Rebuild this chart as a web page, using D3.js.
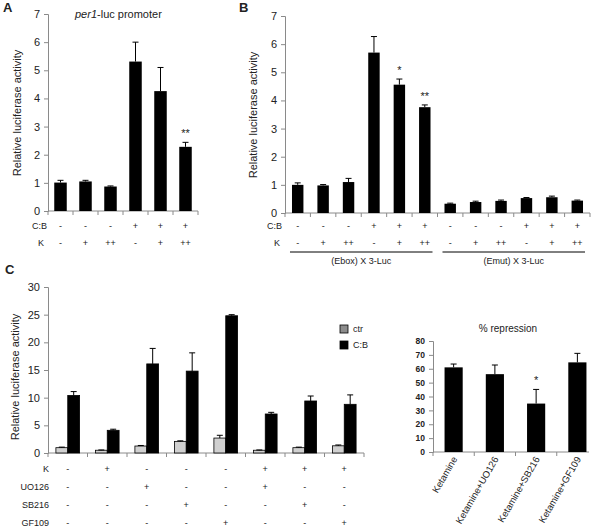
<!DOCTYPE html>
<html><head><meta charset="utf-8">
<script src="https://cdn.jsdelivr.net/npm/d3@7"></script>
<style>
body{margin:0;background:#fff;}
svg text{font-family:"Liberation Sans",Arial,sans-serif;fill:#222;}
</style></head>
<body>
<svg id="c" width="603" height="529"></svg>
<script>
// ---------- DATA ----------
const aValues = [1.01, 1.05, 0.87, 5.31, 4.26, 2.28];
const aErr    = [0.08, 0.04, 0.02, 0.69, 0.84, 0.16];
const aCB     = ["-", "-", "-", "+", "+", "+"];
const aK      = ["-", "+", "++", "-", "+", "++"];
const aStars  = ["", "", "", "", "", "**"];
const aTicks  = [0, 1, 2, 3, 4, 5, 6, 7];

const bValues = [1.0, 0.98, 1.1, 5.7, 4.56, 3.76, 0.33, 0.39, 0.43, 0.53, 0.56, 0.44];
const bErr    = [0.07, 0.03, 0.13, 0.57, 0.2, 0.08, 0.02, 0.03, 0.03, 0.02, 0.04, 0.02];
const bCB     = ["-", "-", "-", "+", "+", "+", "-", "-", "-", "+", "+", "+"];
const bK      = ["-", "+", "++", "-", "+", "++", "-", "+", "++", "-", "+", "++"];
const bStars  = ["", "", "", "", "*", "**", "", "", "", "", "", ""];
const bGroups = ["(Ebox) X 3-Luc", "(Emut) X 3-Luc"];

const cCtr    = [0.96, 0.5, 1.26, 2.1, 2.7, 0.5, 0.96, 1.3];
const cCtrErr = [0.1, 0.05, 0.1, 0.1, 0.5, 0.05, 0.1, 0.15];
const cCB     = [10.4, 4.1, 16.1, 14.8, 24.8, 7.05, 9.4, 8.8];
const cCBErr  = [0.7, 0.2, 2.8, 3.3, 0.2, 0.3, 0.9, 1.7];
const cRowLabels = ["K", "UO126", "SB216", "GF109"];
const cK      = ["-", "+", "-", "-", "-", "+", "+", "+"];
const cUO     = ["-", "-", "+", "-", "-", "+", "-", "-"];
const cSB     = ["-", "-", "-", "+", "-", "-", "+", "-"];
const cGF     = ["-", "-", "-", "-", "+", "-", "-", "+"];
const cSeries = ["ctr", "C:B"];
const cTicks  = [0, 5, 10, 15, 20, 25, 30];

const repCats  = ["Ketamine", "Ketamine+UO126", "Ketamine+SB216", "Ketamine+GF109"];
const repVals  = [61, 56.1, 34.9, 64.6];
const repErr   = [2.4, 6.6, 10.2, 6.5];
const repStars = ["", "", "*", ""];
const repTicks = [0, 10, 20, 30, 40, 50, 60, 70, 80];

// ---------- HELPERS ----------
const svg = d3.select("#c");
const AX = "#8a8a8a";

function yAxis(g, y, x0, ticks, fs, bold) {
  const ax = g.append("g").attr("transform", `translate(${x0},0)`)
    .call(d3.axisLeft(y).tickValues(ticks).tickFormat(d3.format("d")).tickSizeOuter(0).tickSize(4).tickPadding(4));
  ax.select(".domain").attr("stroke", AX);
  ax.selectAll(".tick line").attr("stroke", AX);
  ax.selectAll(".tick text").attr("font-size", fs).attr("font-weight", bold ? "bold" : "normal")
    .attr("fill", "#222").attr("font-family", '"Liberation Sans",Arial,sans-serif');
}
function xBase(g, x, y0, x1end) {
  const r = x.range();
  const end = x1end || r[1];
  g.append("line").attr("x1", r[0]).attr("x2", end).attr("y1", y0).attr("y2", y0).attr("stroke", AX);
  const n = x.domain().length;
  for (let i = 0; i <= n; i++) {
    const xx = r[0] + i * x.step();
    if (xx > end + 0.5) continue;
    g.append("line").attr("x1", xx).attr("x2", xx).attr("y1", y0).attr("y2", y0 + 4).attr("stroke", AX);
  }
}
function errBars(g, data, xc, y) {
  g.selectAll(null).data(data).enter().append("path")
    .attr("d", d => {
      const cx = xc(d), t = y(d.v), e = y(d.v + d.e);
      return `M${cx},${t}V${e}M${cx - 3},${e}H${cx + 3}`;
    })
    .attr("stroke", "#000").attr("stroke-width", 1).attr("fill", "none");
}
function signRow(g, x, vals, yy, label, labelX) {
  g.append("text").attr("x", labelX).attr("y", yy).attr("text-anchor", "end")
    .attr("font-size", 9).text(label);
  g.selectAll(null).data(vals).enter().append("text")
    .attr("x", (d, i) => x(i) + x.bandwidth() / 2).attr("y", yy)
    .attr("text-anchor", "middle").attr("font-size", 9).text(d => d);
}

// ---------- PANEL A ----------
{
  const g = svg.append("g");
  const idx = aValues.map((d, i) => i);
  const x = d3.scaleBand().domain(idx).range([48, 198]).paddingInner(0.5).paddingOuter(0.25);
  const y = d3.scaleLinear().domain([0, 7]).range([211, 14]);
  yAxis(g, y, 48, aTicks, 11);
  xBase(g, x, 211);
  const data = aValues.map((v, i) => ({ i, v, e: aErr[i], s: aStars[i] }));
  g.selectAll(null).data(data).enter().append("rect")
    .attr("x", d => x(d.i)).attr("width", x.bandwidth())
    .attr("y", d => y(d.v)).attr("height", d => y(0) - y(d.v)).attr("fill", "#000");
  errBars(g, data, d => x(d.i) + x.bandwidth() / 2, y);
  g.selectAll(null).data(data.filter(d => d.s)).enter().append("text")
    .attr("x", d => x(d.i) + x.bandwidth() / 2).attr("y", d => y(d.v + d.e) - 5)
    .attr("text-anchor", "middle").attr("font-size", 11).text(d => d.s);
  signRow(g, x, aCB, 229, "C:B", 47);
  signRow(g, x, aK, 246, "K", 44);
  const t = g.append("text").attr("x", 75).attr("y", 18).attr("font-size", 11);
  t.append("tspan").attr("font-style", "italic").text("per1");
  t.append("tspan").text("-luc promoter");
  g.append("text").attr("transform", "translate(21,113) rotate(-90)").attr("text-anchor", "middle")
    .attr("font-size", 11).text("Relative luciferase activity");
  g.append("text").attr("x", 3).attr("y", 12).attr("font-size", 13).attr("font-weight", "bold").text("A");
}

// ---------- PANEL B ----------
{
  const g = svg.append("g");
  const idx = bValues.map((d, i) => i);
  const x = d3.scaleBand().domain(idx).range([285, 590]).paddingInner(0.55).paddingOuter(0.275);
  const y = d3.scaleLinear().domain([0, 7]).range([213, 16]);
  yAxis(g, y, 285, aTicks, 11);
  xBase(g, x, 213);
  const data = bValues.map((v, i) => ({ i, v, e: bErr[i], s: bStars[i] }));
  g.selectAll(null).data(data).enter().append("rect")
    .attr("x", d => x(d.i)).attr("width", x.bandwidth())
    .attr("y", d => y(d.v)).attr("height", d => y(0) - y(d.v)).attr("fill", "#000");
  errBars(g, data, d => x(d.i) + x.bandwidth() / 2, y);
  g.selectAll(null).data(data.filter(d => d.s)).enter().append("text")
    .attr("x", d => x(d.i) + x.bandwidth() / 2).attr("y", d => y(d.v + d.e) - 5)
    .attr("text-anchor", "middle").attr("font-size", 11).text(d => d.s);
  signRow(g, x, bCB, 229, "C:B", 282);
  signRow(g, x, bK, 246, "K", 280);
  // group underlines
  [[0, 5], [6, 11]].forEach((r, k) => {
    const x1 = x(r[0]) - 2, x2 = x(r[1]) + x.bandwidth() + 2;
    g.append("line").attr("x1", x1).attr("x2", x2).attr("y1", 252).attr("y2", 252).attr("stroke", "#000");
    g.append("text").attr("x", (x1 + x2) / 2).attr("y", 264).attr("text-anchor", "middle")
      .attr("font-size", 9).text(bGroups[k]);
  });
  g.append("text").attr("transform", "translate(257,115) rotate(-90)").attr("text-anchor", "middle")
    .attr("font-size", 11).text("Relative luciferase activity");
  g.append("text").attr("x", 239).attr("y", 12).attr("font-size", 13).attr("font-weight", "bold").text("B");
}

// ---------- PANEL C ----------
{
  const g = svg.append("g");
  const idx = cCB.map((d, i) => i);
  const x = d3.scaleBand().domain(idx).range([48, 364]).paddingInner(0.4).paddingOuter(0.2);
  const x1 = d3.scaleBand().domain([0, 1]).range([0, x.bandwidth()]);
  const y = d3.scaleLinear().domain([0, 30]).range([453, 287]);
  yAxis(g, y, 48, cTicks, 11);
  xBase(g, x, 453);
  const data = [];
  idx.forEach(i => {
    data.push({ i, s: 0, v: cCtr[i], e: cCtrErr[i] });
    data.push({ i, s: 1, v: cCB[i], e: cCBErr[i] });
  });
  g.selectAll(null).data(data).enter().append("rect")
    .attr("x", d => x(d.i) + x1(d.s)).attr("width", x1.bandwidth())
    .attr("y", d => y(d.v)).attr("height", d => y(0) - y(d.v))
    .attr("fill", d => d.s ? "#000" : "#d0d0d0").attr("stroke", "#000").attr("stroke-width", 0.8);
  errBars(g, data, d => x(d.i) + x1(d.s) + x1.bandwidth() / 2, y);
  const rows = [cK, cUO, cSB, cGF];
  rows.forEach((r, k) => signRow(g, x, r, 472 + k * 18, cRowLabels[k], 49));
  // legend
  const lg = g.append("g");
  cSeries.forEach((s, k) => {
    lg.append("rect").attr("x", 340).attr("y", 325 + k * 16).attr("width", 8).attr("height", 8)
      .attr("fill", k ? "#000" : "#8c8c8c").attr("stroke", "#000").attr("stroke-width", 0.8);
    lg.append("text").attr("x", 353).attr("y", 332 + k * 16).attr("font-size", 9).text(s);
  });
  g.append("text").attr("transform", "translate(19,377) rotate(-90)").attr("text-anchor", "middle")
    .attr("font-size", 11).text("Relative luciferase activity");
  g.append("text").attr("x", 5).attr("y", 274).attr("font-size", 13).attr("font-weight", "bold").text("C");
}

// ---------- % REPRESSION ----------
{
  const g = svg.append("g");
  const x = d3.scaleBand().domain(repCats).range([433, 598]).paddingInner(0.56).paddingOuter(0.28);
  const y = d3.scaleLinear().domain([0, 80]).range([452, 341]);
  yAxis(g, y, 433, repTicks, 8.5, true);
  xBase(g, x, 452, 589);
  const data = repCats.map((c, i) => ({ c, v: repVals[i], e: repErr[i], s: repStars[i] }));
  g.selectAll(null).data(data).enter().append("rect")
    .attr("x", d => x(d.c)).attr("width", x.bandwidth())
    .attr("y", d => y(d.v)).attr("height", d => y(0) - y(d.v)).attr("fill", "#000");
  errBars(g, data, d => x(d.c) + x.bandwidth() / 2, y);
  g.selectAll(null).data(data.filter(d => d.s)).enter().append("text")
    .attr("x", d => x(d.c) + x.bandwidth() / 2).attr("y", d => y(d.v + d.e) - 5)
    .attr("text-anchor", "middle").attr("font-size", 11).text(d => d.s);
  g.selectAll(null).data(repCats).enter().append("text")
    .attr("transform", d => `translate(${x(d) + x.bandwidth() / 2 + 4},459) rotate(-60)`)
    .attr("text-anchor", "end").attr("font-size", 9.5).text(d => d);
  g.append("text").attr("x", 508).attr("y", 332).attr("text-anchor", "middle")
    .attr("font-size", 10).text("% repression");
}
</script>
</body></html>
